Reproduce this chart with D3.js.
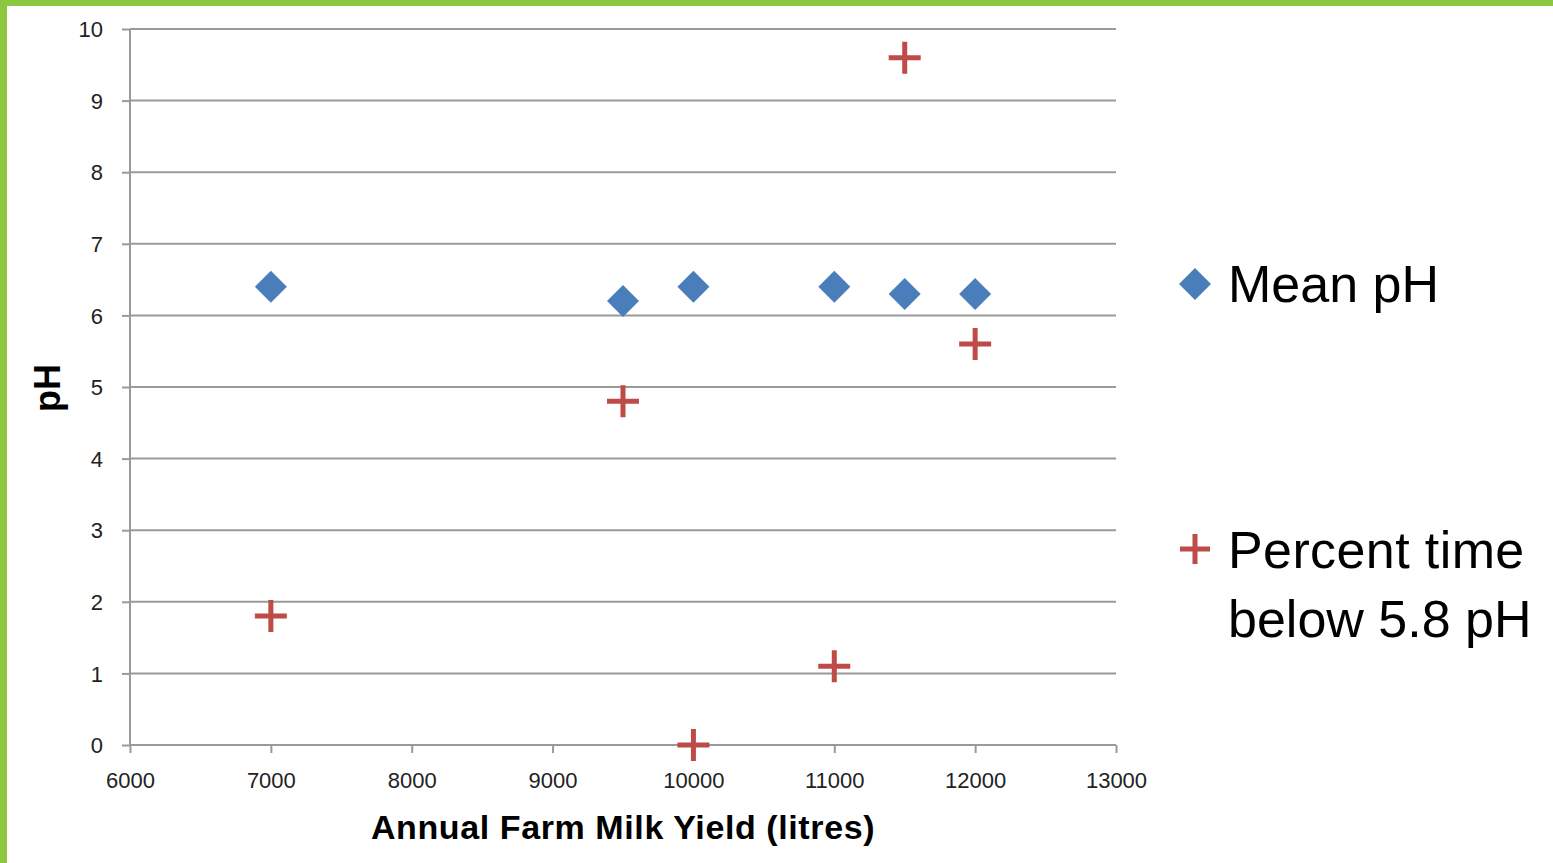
<!DOCTYPE html>
<html>
<head>
<meta charset="utf-8">
<script src="https://cdn.jsdelivr.net/npm/d3@7"></script>
<style>
  html, body { margin: 0; padding: 0; background: #fff; }
  svg { display: block; }
</style>
</head>
<body>
<svg id="chart" width="1553" height="863"></svg>
<script>
// Annual farm milk yield (litres) against rumen pH measures
const yields      = [7000, 9500, 10000, 11000, 11500, 12000];
const meanPH      = [6.4, 6.2, 6.4, 6.4, 6.3, 6.3];
const yieldsPct   = [7000, 9500, 10000, 11000, 11500, 12000];
const pctBelow    = [1.8, 4.8, 0.0, 1.1, 9.6, 5.6];
const xTicks      = [6000, 7000, 8000, 9000, 10000, 11000, 12000, 13000];
const yTicks      = [0, 1, 2, 3, 4, 5, 6, 7, 8, 9, 10];
const seriesNames = ["Mean pH", ["Percent time", "below 5.8 pH"]];

const svg = d3.select("#chart");
const W = 1553, H = 863;
const font = "'Liberation Sans', 'Open Sans', sans-serif";

// page frame
svg.append("rect").attr("x", 0).attr("y", 0).attr("width", W).attr("height", H).attr("fill", "#fff");
svg.append("rect").attr("x", 0).attr("y", 0).attr("width", W).attr("height", 6).attr("fill", "#8dc63f");
svg.append("rect").attr("x", 0).attr("y", 0).attr("width", 7).attr("height", H).attr("fill", "#8dc63f");

const plotL = 130, plotR = 1116, plotT = 29, plotB = 745;
const x = d3.scaleLinear().domain([6000, 13000]).range([plotL, plotR]);
const y = d3.scaleLinear().domain([0, 10]).range([plotB, plotT]);

const gridColor = "#9a9a9a";

// horizontal gridlines
svg.append("g").selectAll("line").data(yTicks.filter(d => d > 0)).join("line")
  .attr("x1", plotL).attr("x2", plotR)
  .attr("y1", d => y(d)).attr("y2", d => y(d))
  .attr("stroke", gridColor).attr("stroke-width", 2);

// y axis
const yAxis = svg.append("g").attr("transform", `translate(${plotL},0)`)
  .call(d3.axisLeft(y).tickValues(yTicks).tickSize(8).tickPadding(19).tickFormat(d3.format("d")));
yAxis.select(".domain").attr("stroke", gridColor).attr("stroke-width", 2).attr("d", `M0,${plotT}V${plotB}`);
yAxis.selectAll(".tick line").attr("stroke", gridColor).attr("stroke-width", 2);
yAxis.selectAll(".tick text").attr("font-family", font).attr("font-size", 22).attr("fill", "#222")
  .attr("dy", "0.35em");

// x axis
const xAxis = svg.append("g").attr("transform", `translate(0,${plotB})`)
  .call(d3.axisBottom(x).tickValues(xTicks).tickSize(8).tickPadding(19).tickFormat(d3.format("d")));
xAxis.select(".domain").attr("stroke", gridColor).attr("stroke-width", 2).attr("d", `M${plotL},0H${plotR}`);
xAxis.selectAll(".tick line").attr("stroke", gridColor).attr("stroke-width", 2);
xAxis.selectAll(".tick text").attr("font-family", font).attr("font-size", 22).attr("fill", "#222");

// axis titles
svg.append("text").attr("x", 623).attr("y", 839).attr("text-anchor", "middle")
  .attr("font-family", font).attr("font-weight", "bold").attr("font-size", 34).attr("fill", "#000")
  .attr("letter-spacing", 0.6)
  .text("Annual Farm  Milk Yield (litres)");
svg.append("text").attr("transform", "translate(60,388) rotate(-90)").attr("text-anchor", "middle")
  .attr("font-family", font).attr("font-weight", "bold").attr("font-size", 36).attr("fill", "#000")
  .text("pH");

const blue = "#4a7ebb", red = "#be4b48";
const diamond = (cx, cy, s) => `M${cx},${cy - s}L${cx + s},${cy}L${cx},${cy + s}L${cx - s},${cy}Z`;
const plus = (cx, cy, s) => `M${cx - s},${cy}H${cx + s}M${cx},${cy - s}V${cy + s}`;

// Mean pH series
svg.append("g").selectAll("path").data(d3.zip(yields, meanPH)).join("path")
  .attr("d", d => diamond(x(d[0]), y(d[1]), 16))
  .attr("fill", blue);

// Percent time below 5.8 pH series
svg.append("g").selectAll("path").data(d3.zip(yieldsPct, pctBelow)).join("path")
  .attr("d", d => plus(x(d[0]), y(d[1]), 16))
  .attr("stroke", red).attr("stroke-width", 5).attr("fill", "none");

// legend
const lg = svg.append("g");
lg.append("path").attr("d", diamond(1195, 284, 16)).attr("fill", blue);
lg.append("text").attr("x", 1228).attr("y", 302).attr("font-family", font).attr("font-size", 52)
  .attr("fill", "#000").text(seriesNames[0]);
lg.append("path").attr("d", plus(1195, 549, 15)).attr("stroke", red).attr("stroke-width", 5).attr("fill", "none");
const t2 = lg.append("text").attr("font-family", font).attr("font-size", 52).attr("fill", "#000");
t2.append("tspan").attr("x", 1228).attr("y", 568).attr("letter-spacing", 0.4).text(seriesNames[1][0]);
t2.append("tspan").attr("x", 1228).attr("y", 637).text(seriesNames[1][1]);
</script>
</body>
</html>
